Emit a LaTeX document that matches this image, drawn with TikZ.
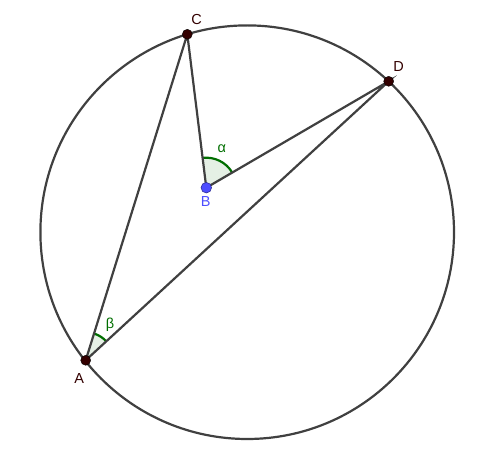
\documentclass[tikz,border=0pt]{standalone}
\usepackage{fontspec}
\setmainfont{Liberation Sans}
\usetikzlibrary{angles,quotes}
\definecolor{linegray}{RGB}{64,64,64}
\definecolor{ptdark}{RGB}{51,0,0}
\definecolor{ptblue}{RGB}{77,77,255}
\definecolor{anggreen}{RGB}{0,110,0}
\begin{document}
\begin{tikzpicture}[x=1pt,y=1pt,
  seg/.style={draw=linegray,line width=2.2pt},
  darkpt/.style={circle,fill=ptdark,draw=black,line width=0.4pt,inner sep=0pt,minimum size=10pt},
  bluept/.style={circle,fill=ptblue,draw=ptblue!60!black,line width=0.6pt,inner sep=0pt,minimum size=10.5pt},
  lbl/.style={font=\fontsize{14.5}{16}\selectfont,inner sep=0pt},
  ang/.style={draw=anggreen,line width=2.2pt,fill=anggreen,fill opacity=0.1,draw opacity=1}]
\useasboundingbox (0,0) rectangle (493,461);
\coordinate (O) at (247.2,228.8);
\coordinate (A) at (85.7,100.7);
\coordinate (B) at (206.3,273.3);
\coordinate (C) at (187.3,426.7);
\coordinate (D) at (388.7,379.7);
\pic[ang,angle radius=30pt] {angle=D--B--C};
\pic[ang,angle radius=28pt] {angle=D--A--C};
\draw[seg] (O) circle (206.8);
\draw[seg] (A) -- (C) -- (B) -- (D) -- (A);
\node[darkpt] (pA) at (A) {};
\node[bluept] (pB) at (B) {};
\node[darkpt] (pC) at (C) {};
\node[darkpt] (pD) at (D) {};
\node[lbl,text=ptdark] (lA) at (79.3,82.7) {A};
\node[lbl,text=ptblue] (lB) at (205.7,259.3) {B};
\node[lbl,text=ptdark] (lC) at (196.7,441) {C};
\node[lbl,text=ptdark] (lD) at (398.7,394.3) {D};
\node[lbl,text=anggreen] (la) at (221.7,312.7) {α};
\node[lbl,text=anggreen] (lb) at (110,136) {β};
\end{tikzpicture}
\end{document}
